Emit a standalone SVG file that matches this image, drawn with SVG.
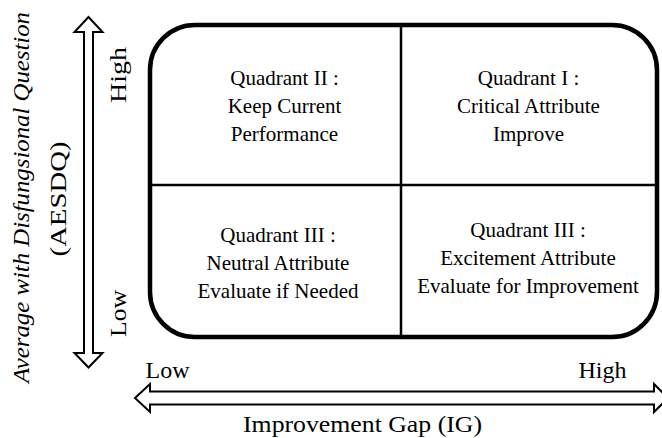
<svg xmlns="http://www.w3.org/2000/svg" width="662" height="438" viewBox="0 0 662 438">
<style>
.q{font-family:'Liberation Serif','Times New Roman','DejaVu Serif',serif;font-size:21px;fill:#000;text-anchor:middle}
.ax{font-family:'Liberation Serif','Times New Roman','DejaVu Serif',serif;font-size:24px;fill:#000;text-anchor:middle}
.arrow{fill:#fff;stroke:#000;stroke-width:2;stroke-linejoin:miter}
.div{stroke:#000;stroke-width:2.5;fill:none}
</style>
<rect width="662" height="438" fill="#fff"/>
<g id="matrix">
<rect x="150" y="25" width="507" height="312" rx="45" ry="45" fill="#fff" stroke="#000" stroke-width="4.5"/>
<line class="div" x1="401" y1="25" x2="401" y2="337"/>
<line class="div" x1="150" y1="185" x2="657" y2="185"/>
</g>
<g id="quadrant-2" font-family="Liberation Serif, serif">
<text class="q" x="284.5" y="85">Quadrant II :</text>
<text class="q" x="284.5" y="113">Keep Current</text>
<text class="q" x="284.5" y="140.5">Performance</text>
</g>
<g id="quadrant-1" font-family="Liberation Serif, serif">
<text class="q" x="528.5" y="85">Quadrant I :</text>
<text class="q" x="528.5" y="113">Critical Attribute</text>
<text class="q" x="528.5" y="140.5">Improve</text>
</g>
<g id="quadrant-3" font-family="Liberation Serif, serif">
<text class="q" x="278" y="241.5">Quadrant III :</text>
<text class="q" x="278" y="269.5">Neutral Attribute</text>
<text class="q" x="278" y="297.5">Evaluate if Needed</text>
</g>
<g id="quadrant-4" font-family="Liberation Serif, serif">
<text class="q" x="528" y="236.5">Quadrant III :</text>
<text class="q" x="528" y="264.5">Excitement Attribute</text>
<text class="q" x="528" y="292.5">Evaluate for Improvement</text>
</g>
<g id="connectors">
<path id="y-axis-arrow" class="arrow" d="M88.5,17 L102.5,32 L93,32 L93,353 L102.5,353 L88.5,367.5 L74.5,353 L84,353 L84,32 L74.5,32 Z"/>
<path id="x-axis-arrow" class="arrow" d="M135,398 L150,384 L150,391.5 L654,391.5 L654,384 L668,398 L654,412 L654,404.5 L150,404.5 L150,412 Z"/>
</g>
<g id="y-axis-labels" font-family="Liberation Serif, serif">
<text class="ax" transform="translate(29,197.5) rotate(-90)" x="0" y="0" font-style="italic" font-size="23" textLength="371" lengthAdjust="spacingAndGlyphs">Average with Disfungsional Question</text>
<text class="ax" transform="translate(66,199) rotate(-90)" x="0" y="0" textLength="115" lengthAdjust="spacingAndGlyphs">(AESDQ)</text>
<text class="ax" transform="translate(126,75) rotate(-90)" x="0" y="0" textLength="56" lengthAdjust="spacingAndGlyphs">High</text>
<text class="ax" transform="translate(126,313.5) rotate(-90)" x="0" y="0" textLength="47" lengthAdjust="spacingAndGlyphs">Low</text>
</g>
<g id="x-axis-labels" font-family="Liberation Serif, serif">
<text class="ax" x="167.5" y="378">Low</text>
<text class="ax" x="602.5" y="378">High</text>
<text class="ax" x="362.5" y="432" textLength="239" lengthAdjust="spacingAndGlyphs">Improvement Gap (IG)</text>
</g>
</svg>
